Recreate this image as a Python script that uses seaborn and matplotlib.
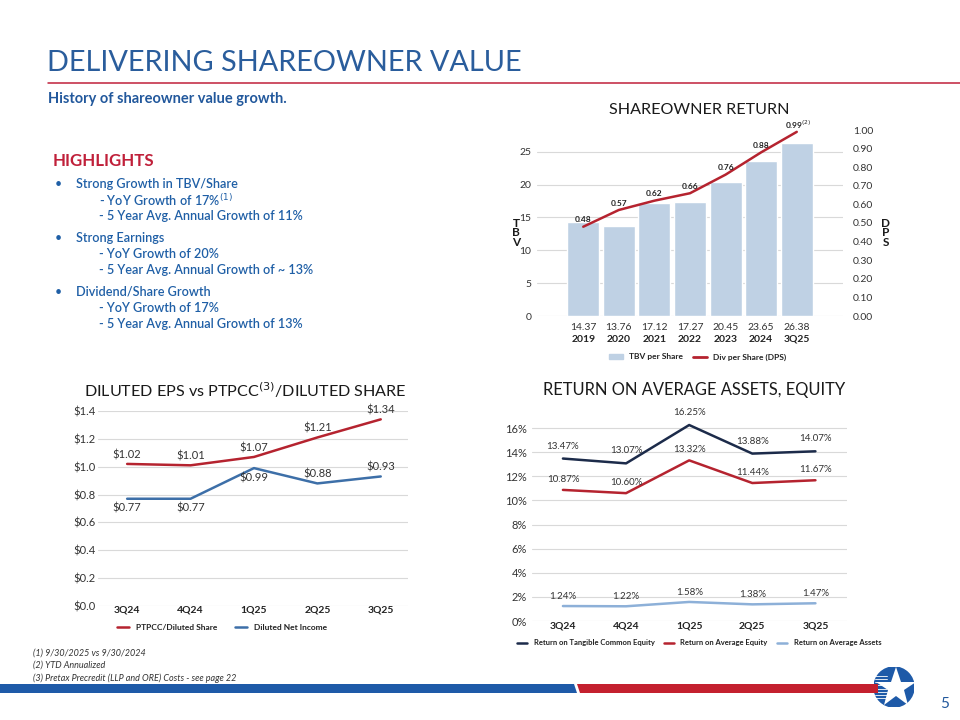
import numpy as np
import pandas as pd
import matplotlib.pyplot as plt
import seaborn as sns
from matplotlib.patches import Patch, Polygon, Circle
from matplotlib.lines import Line2D

# ---- data -------------------------------------------------------------
YEARS = ['2019', '2020', '2021', '2022', '2023', '2024', '3Q25']
TBV_PER_SHARE = [14.37, 13.76, 17.12, 17.27, 20.45, 23.65, 26.38]
DIV_PER_SHARE = [0.48, 0.57, 0.62, 0.66, 0.76, 0.88, 0.99]

QUARTERS = ['3Q24', '4Q24', '1Q25', '2Q25', '3Q25']
PTPCC_PER_SHARE = [1.02, 1.01, 1.07, 1.21, 1.34]
DILUTED_NET_INCOME = [0.77, 0.77, 0.99, 0.88, 0.93]

ROTCE = [13.47, 13.07, 16.25, 13.88, 14.07]
ROAE = [10.87, 10.60, 13.32, 11.44, 11.67]
ROAA = [1.24, 1.22, 1.58, 1.38, 1.47]

# ---- colours ----------------------------------------------------------
BLUE = '#22589c'
TEXT_BLUE = '#1f5fa6'
RED = '#c0203a'
LINE_RED = '#b5232f'
LINE_BLUE = '#3d6fa8'
LIGHT_BLUE = '#8db0d8'
NAVY = '#1c2b4a'
BAR = '#bfd1e4'
GRID = '#d9d9d9'
DARK = '#333333'

W, H = 960, 720


def fx(x):
    return x / W


def fy(y):
    return 1 - y / H


def box(left, top, right, bottom):
    return [left / W, 1 - bottom / H, (right - left) / W, (bottom - top) / H]


def clean(ax):
    for s in ax.spines.values():
        s.set_visible(False)
    ax.set_xlabel('')
    ax.set_ylabel('')
    ax.tick_params(length=0)


sns.set_theme(style='white')
plt.rcParams['font.family'] = ['Lato', 'DejaVu Sans']

fig = plt.figure(figsize=(9.6, 7.2), dpi=100)

# ---- header -----------------------------------------------------------
fig.text(fx(47), fy(63), 'DELIVERING SHAREOWNER VALUE', fontsize=20.8,
         weight='normal', color='#2a5d9c', va='center')
fig.add_artist(Line2D([fx(48), 1], [fy(83), fy(83)], color=RED, lw=1.1))
fig.text(fx(48), fy(99), 'History of shareowner value growth.', fontsize=10.5,
         weight='bold', color=BLUE, va='center')

# ---- highlights -------------------------------------------------------
fig.text(fx(53), fy(161), 'HIGHLIGHTS', fontsize=12.2, weight='bold',
         color=RED, va='center')
highlights = [
    ('Strong Growth in TBV/Share', ['- YoY Growth of 17%$^{(1)}$',
                                    '- 5 Year Avg. Annual Growth of 11%']),
    ('Strong Earnings', ['- YoY Growth of 20%',
                         '- 5 Year Avg. Annual Growth of ~ 13%']),
    ('Dividend/Share Growth', ['- YoY Growth of 17%',
                               '- 5 Year Avg. Annual Growth of 13%']),
]
y = 184
for head, subs in highlights:
    fig.text(fx(55), fy(y), '\u2022', fontsize=9, color=TEXT_BLUE, va='center')
    fig.text(fx(76), fy(y), head, fontsize=9.1, weight='semibold',
             color=TEXT_BLUE, va='center')
    y += 16
    for s in subs:
        fig.text(fx(99), fy(y), s, fontsize=9.1, weight='semibold',
                 color=TEXT_BLUE, va='center')
        y += 16
    y += 6

# ---- shareowner return ------------------------------------------------
df1 = pd.DataFrame({'year': YEARS, 'tbv': TBV_PER_SHARE, 'dps': DIV_PER_SHARE})
df1['pos'] = np.arange(len(df1))

ax1 = fig.add_axes(box(537, 130, 843, 316))
sns.barplot(data=df1, x='year', y='tbv', color=BAR, width=0.9,
            saturation=1, ax=ax1)
ax1.set_ylim(0, 28.3)
ax1.set_yticks(range(0, 30, 5))
ax1.grid(axis='y', color=GRID, lw=0.8)
ax1.set_axisbelow(True)
ax1.set_xticks(df1['pos'], [f'{v:.2f}' for v in TBV_PER_SHARE])
ax1.tick_params(axis='x', labelsize=7.5, colors=DARK, pad=5)
ax1.tick_params(axis='y', labelsize=7.5, colors=DARK, pad=4)
for i, yr in enumerate(YEARS):
    ax1.text(i, -0.125, yr, transform=ax1.get_xaxis_transform(), ha='center',
             va='center', fontsize=7.5, weight='bold', color='#222222')
clean(ax1)

ax2 = ax1.twinx()
sns.lineplot(data=df1, x='pos', y='dps', color=LINE_RED, lw=1.8, ax=ax2)
ax2.set_ylim(0, 1.0)
ax2.set_yticks(np.arange(0, 1.01, 0.1),
               [f'{v:.2f}' for v in np.arange(0, 1.01, 0.1)])
ax2.tick_params(axis='y', labelsize=7.5, colors=DARK, pad=7)
ax2.grid(False)
clean(ax2)
for i, v in enumerate(DIV_PER_SHARE):
    lab = f'{v:.2f}' + ('$^{(2)}$' if i == len(DIV_PER_SHARE) - 1 else '')
    ax2.annotate(lab, (i, v), xytext=(1 if lab.endswith('$') else 0, 5),
                 textcoords='offset points', ha='center', va='center',
                 fontsize=6, weight='bold', color='#222222')
ax1.set_xlim(-1.3, 7.3)

fig.text(fx(699), fy(110), 'SHAREOWNER RETURN', ha='center', va='center',
         fontsize=11.6, color='#1a1a1a')
fig.text(fx(516), fy(233), 'T\nB\nV', ha='center', va='center', fontsize=8.5,
         weight='bold', color='#1a1a1a', linespacing=0.85)
fig.text(fx(886), fy(233), 'D\nP\nS', ha='center', va='center', fontsize=8.5,
         weight='bold', color='#1a1a1a', linespacing=0.85)
fig.legend(handles=[Patch(color=BAR), Line2D([], [], color=LINE_RED, lw=2)],
           labels=['TBV per Share', 'Div per Share (DPS)'], loc='center',
           bbox_to_anchor=(fx(698), fy(357)), ncol=2, frameon=False,
           prop={'size': 6, 'weight': 'bold'}, handlelength=1.6,
           handleheight=0.6, columnspacing=1.2, labelcolor='#222222')

# ---- diluted EPS vs PTPCC ----------------------------------------------
df2 = pd.DataFrame({
    'pos': list(range(len(QUARTERS))) * 2,
    'value': PTPCC_PER_SHARE + DILUTED_NET_INCOME,
    'series': ['PTPCC/Diluted Share'] * len(QUARTERS)
              + ['Diluted Net Income'] * len(QUARTERS),
})
ax3 = fig.add_axes(box(98, 411, 408, 606))
sns.lineplot(data=df2, x='pos', y='value', hue='series', lw=1.8, ax=ax3,
             palette={'PTPCC/Diluted Share': LINE_RED,
                      'Diluted Net Income': LINE_BLUE})
ax3.set_ylim(0, 1.4)
ax3.set_yticks(np.arange(0, 1.41, 0.2),
               [f'${v:.1f}' for v in np.arange(0, 1.41, 0.2)])
ax3.set_xticks(range(len(QUARTERS)), QUARTERS)
ax3.set_xlim(-0.46, 4.43)
ax3.grid(axis='y', color=GRID, lw=0.8)
ax3.tick_params(axis='y', labelsize=8, colors=DARK, pad=2)
ax3.tick_params(axis='x', labelsize=7.5, colors='#222222', pad=0)
for t in ax3.get_xticklabels():
    t.set_fontweight('bold')
clean(ax3)
for i, v in enumerate(PTPCC_PER_SHARE):
    ax3.annotate(f'${v:.2f}', (i, v), xytext=(0, 6.5),
                 textcoords='offset points', ha='center', va='center',
                 fontsize=8, color=DARK)
for i, v in enumerate(DILUTED_NET_INCOME):
    off = -7 if i < 3 else 6.5
    ax3.annotate(f'${v:.2f}', (i, v), xytext=(0, off),
                 textcoords='offset points', ha='center', va='center',
                 fontsize=8, color=DARK)
ax3.legend(loc='center', bbox_to_anchor=(0.40, -0.11), ncol=2,
           frameon=False, prop={'size': 6, 'weight': 'bold'},
           handlelength=1.4, columnspacing=2.2, labelcolor='#222222')
fig.text(fx(245), fy(390), 'DILUTED EPS vs PTPCC$^{(3)}$/DILUTED SHARE',
         ha='center', va='center', fontsize=11.6, color='#1a1a1a')

# ---- return on average assets, equity ---------------------------------
names = ['Return on Tangible Common Equity', 'Return on Average Equity',
         'Return on Average Assets']
df3 = pd.DataFrame({
    'pos': list(range(len(QUARTERS))) * 3,
    'value': ROTCE + ROAE + ROAA,
    'series': [n for n in names for _ in QUARTERS],
})
ax4 = fig.add_axes(box(532, 422, 847, 621))
sns.lineplot(data=df3, x='pos', y='value', hue='series', lw=1.8, ax=ax4,
             palette=dict(zip(names, [NAVY, LINE_RED, LIGHT_BLUE])))
ax4.set_ylim(0, 16.5)
ax4.set_yticks(range(0, 17, 2), [f'{v}%' for v in range(0, 17, 2)])
ax4.set_xticks(range(len(QUARTERS)), QUARTERS)
ax4.set_xlim(-0.49, 4.5)
ax4.grid(axis='y', color=GRID, lw=0.8)
ax4.tick_params(axis='y', labelsize=8, colors=DARK, pad=3.5)
ax4.tick_params(axis='x', labelsize=7.5, colors='#222222', pad=0.5)
for t in ax4.get_xticklabels():
    t.set_fontweight('bold')
clean(ax4)
for series, off in [(ROTCE, 9), (ROAE, 7.5), (ROAA, 7)]:
    for i, v in enumerate(series):
        ax4.annotate(f'{v:.2f}%', (i, v), xytext=(0, off),
                     textcoords='offset points', ha='center', va='center',
                     fontsize=7, color=DARK)
ax4.legend(loc='center', bbox_to_anchor=(0.53, -0.11), ncol=3,
           frameon=False, prop={'size': 5.5, 'weight': 'bold'},
           handlelength=1.4, columnspacing=1.2, labelcolor='#222222')
fig.text(fx(694), fy(390), 'RETURN ON AVERAGE ASSETS, EQUITY',
         ha='center', va='center', fontsize=11.9, color='#1a1a1a')

# ---- footnotes --------------------------------------------------------
for k, note in enumerate(['(1) 9/30/2025 vs 9/30/2024',
                          '(2) YTD Annualized',
                          '(3) Pretax Precredit (LLP and ORE) Costs - see page 22']):
    fig.text(fx(33), fy(653 + 12.5 * k), note, fontsize=6.5, style='italic',
             color=DARK, va='center')

# ---- footer stripe and logo -------------------------------------------
def poly(pts, color):
    fig.add_artist(Polygon([(fx(a), fy(b)) for a, b in pts], closed=True,
                           transform=fig.transFigure, color=color, lw=0))


poly([(0, 684), (574, 684), (577, 693), (0, 693)], '#1e5aa8')
poly([(577, 684), (878, 684), (878, 693), (580, 693)], '#c4202f')

logo = fig.add_axes(box(874, 667, 914, 707))
logo.set_xlim(-1, 1)
logo.set_ylim(-1, 1)
logo.set_aspect('equal')
logo.axis('off')
logo.add_patch(Circle((0, 0), 1, color='#1e5aa8'))
for yy in np.linspace(-0.55, 0.55, 8):
    logo.plot([-0.95, -0.35], [yy, yy], color='white', lw=0.6)
logo.plot([0.12], [-0.05], marker='*', ms=30, color='white', mew=0)

fig.text(fx(945), fy(704), '5', fontsize=11, color=BLUE, ha='center',
         va='center')

fig.savefig('out.png', dpi=100)
